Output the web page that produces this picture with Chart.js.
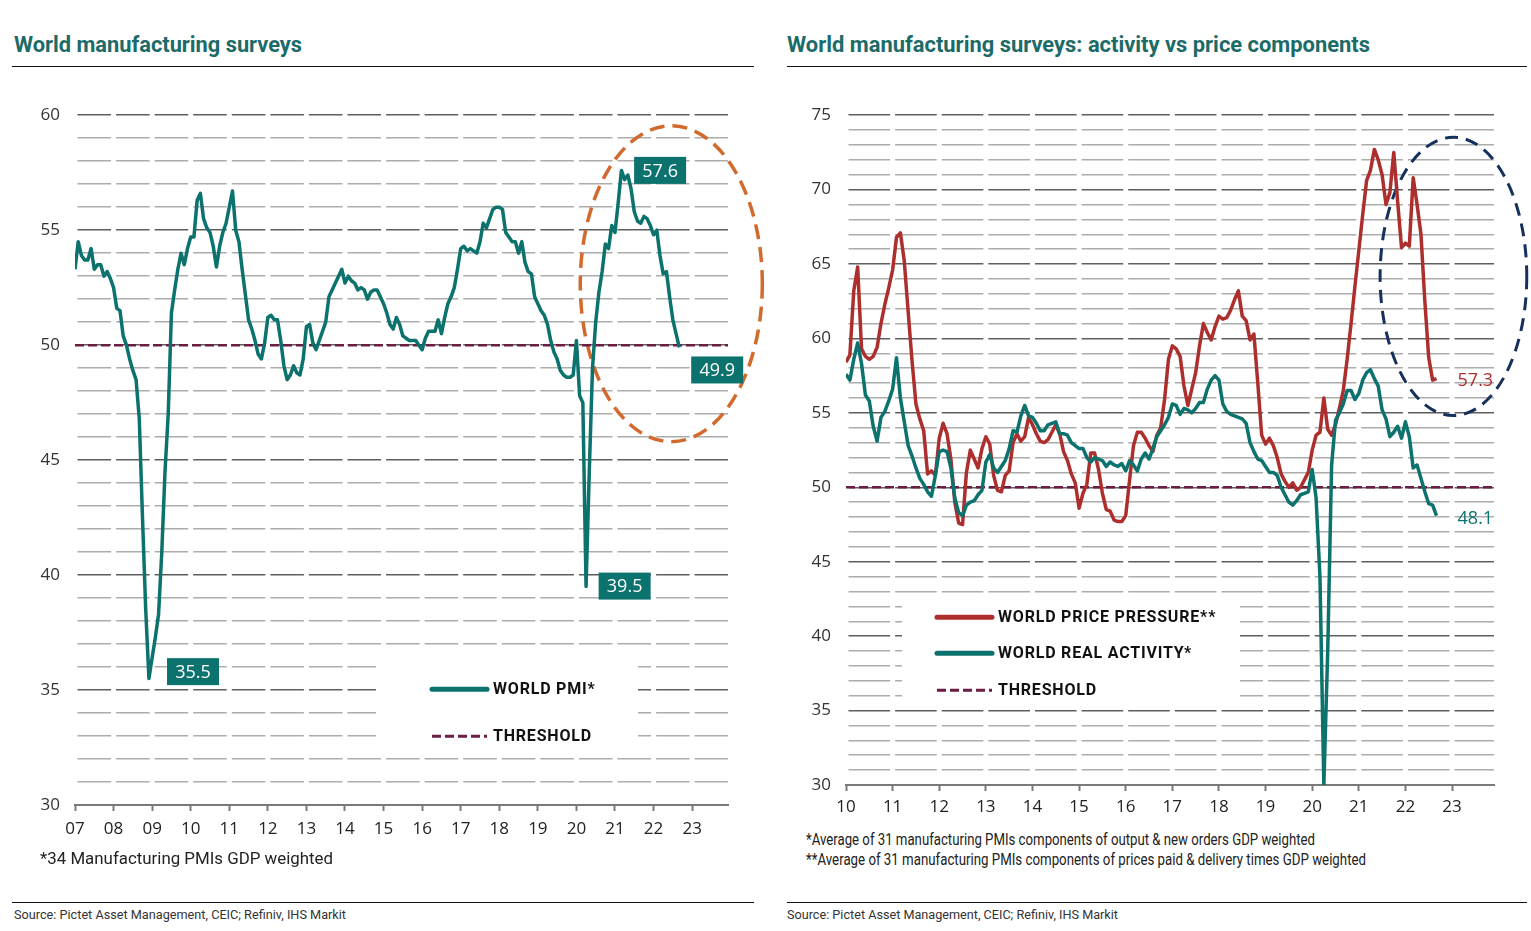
<!DOCTYPE html>
<html>
<head>
<meta charset="utf-8">
<title>World manufacturing surveys</title>
<script src="https://cdn.jsdelivr.net/npm/chart.js@4.4.1/dist/chart.umd.min.js"></script>
<style>
  html, body { margin: 0; padding: 0; background: #fff; }
  body { width: 1531px; height: 931px; position: relative; overflow: hidden; font-family: "Open Sans", sans-serif; }
  .title { position: absolute; top: 34px; font-family: Roboto, sans-serif; font-weight: 700; font-size: 22px; line-height: 22px; color: #1c6b69; white-space: nowrap; transform-origin: left top; }
  .rule { position: absolute; height: 1px; background: #111; }
  .note { position: absolute; font-family: Roboto, sans-serif; font-size: 16px; line-height: 16px; color: #222; white-space: nowrap; transform-origin: left top; }
  .source { position: absolute; top: 909px; font-family: Roboto, sans-serif; font-size: 12px; line-height: 12px; color: #333; white-space: nowrap; transform-origin: left top; }
  .plot { position: absolute; top: 90px; }
</style>
</head>
<body>

<div class="title" id="title-left" style="left:14px" data-w="288">World manufacturing surveys</div>
<div class="title" id="title-right" style="left:787px" data-w="583">World manufacturing surveys: activity vs price components</div>
<div class="rule" style="left:12px; width:742px; top:66px"></div>
<div class="rule" style="left:787px; width:740px; top:66px"></div>

<div class="plot" style="left:0px"><canvas id="pmi-chart" width="770" height="760"></canvas></div>
<div class="plot" style="left:780px"><canvas id="components-chart" width="751" height="740"></canvas></div>

<div class="note" style="left:40px; top:851px" data-w="293">*34 Manufacturing PMIs GDP weighted</div>
<div class="note" style="left:806px; top:832px" data-w="509">*Average of 31 manufacturing PMIs components of output &amp; new orders GDP weighted</div>
<div class="note" style="left:806px; top:852px" data-w="560">**Average of 31 manufacturing PMIs components of prices paid &amp; delivery times GDP weighted</div>

<div class="rule" style="left:12px; width:742px; top:902px"></div>
<div class="rule" style="left:787px; width:740px; top:902px"></div>
<div class="source" style="left:14px" data-w="332">Source: Pictet Asset Management, CEIC; Refiniv, IHS Markit</div>
<div class="source" style="left:787px" data-w="331">Source: Pictet Asset Management, CEIC; Refiniv, IHS Markit</div>

<script>
// ---- Data (monthly) ----
var pmiStartYear = 2007;
var worldPmi = [
  53.3, 54.5, 53.9, 53.7, 53.7, 54.2, 53.3, 53.5, 53.5, 53.0, 53.2, 52.9,
  52.5, 51.6, 51.5, 50.4, 50.0, 49.4, 48.9, 48.5, 46.8, 42.5, 38.5, 35.5,
  36.4, 37.3, 38.3, 41.0, 44.5, 47.0, 51.4, 52.4, 53.3, 54.0, 53.5, 54.2,
  54.7, 54.7, 56.3, 56.6, 55.5, 55.1, 54.9, 54.3, 53.4, 54.3, 54.9, 55.3,
  56.0, 56.7, 55.0, 54.5, 53.3, 52.2, 51.1, 50.7, 50.2, 49.6, 49.4, 50.1,
  51.2, 51.3, 51.1, 51.1, 50.2, 49.1, 48.5, 48.7, 49.1, 48.8, 48.7, 49.4,
  50.8, 50.9, 50.1, 49.8, 50.2, 50.6, 51.0, 52.1, 52.4, 52.7, 53.0, 53.3,
  52.7, 53.0, 52.8, 52.7, 52.4, 52.5, 52.4, 52.0, 52.3, 52.4, 52.4, 52.1,
  51.8, 51.4, 50.9, 50.7, 51.2, 50.9, 50.4, 50.3, 50.2, 50.2, 50.2, 50.0,
  49.8, 50.3, 50.6, 50.6, 50.6, 51.1, 50.5, 51.2, 51.8, 52.1, 52.5, 53.3,
  54.2, 54.3, 54.1, 54.2, 54.1, 54.0, 54.5, 55.3, 55.1, 55.5, 55.9, 56.0,
  56.0, 55.9, 54.9, 54.7, 54.5, 54.5, 54.0, 54.5, 53.6, 53.2, 53.1, 52.1,
  51.8, 51.5, 51.3, 50.9, 50.2, 49.7, 49.4, 48.9, 48.7, 48.6, 48.6, 48.7,
  50.2, 47.8, 47.5, 39.5, 44.5, 49.0, 51.0, 52.3, 53.2, 54.4, 54.2, 55.2,
  54.9, 56.2, 57.6, 57.2, 57.4, 56.8, 55.8, 55.4, 55.3, 55.6, 55.5, 55.2,
  54.8, 55.0, 53.9, 53.1, 53.2, 52.1, 51.1, 50.5, 49.9
];

var componentsStartYear = 2010;
var worldPricePressure = [
  58.4, 58.9, 63.2, 64.8, 59.3, 58.8, 58.6, 58.8, 59.4, 61.0, 62.3, 63.4,
  64.6, 66.8, 67.1, 65.2, 61.8, 58.5, 55.6, 54.6, 53.8, 50.9, 51.1, 50.8,
  53.3, 54.3, 53.6, 51.9, 49.0, 47.6, 47.5, 51.0, 52.5, 51.9, 51.3, 52.6,
  53.4, 52.9, 50.8, 49.8, 49.7, 50.8, 51.1, 53.0, 53.6, 53.1, 53.4, 54.7,
  54.2, 53.6, 53.1, 53.0, 53.2, 53.7, 54.2, 53.6, 52.4, 51.8, 50.9, 50.3,
  48.6, 49.6, 50.2, 52.3, 52.3, 51.2, 49.6, 48.5, 48.4, 47.8, 47.7, 47.7,
  48.1, 50.5, 52.8, 53.7, 53.7, 53.3, 52.8, 52.4, 53.5, 54.0, 55.9, 58.6,
  59.5, 59.3, 58.8, 56.8, 55.5, 56.6, 57.7, 59.5, 61.0, 60.4, 59.9, 60.8,
  61.5, 61.3, 61.4, 61.9, 62.6, 63.2, 61.5, 61.2, 59.9, 60.3, 57.0, 53.5,
  52.9, 53.3, 52.8, 52.0, 50.9, 50.4, 50.0, 50.3, 49.8, 50.0, 50.5, 51.0,
  52.5, 53.5, 53.7, 56.0, 53.9, 53.5, 54.2, 55.3, 56.5, 58.6, 61.0, 63.5,
  65.9, 68.3, 70.6, 71.3, 72.7, 72.0, 71.0, 69.0, 69.8, 72.5, 69.2, 66.1,
  66.4, 66.2, 70.8, 69.0, 67.0, 62.5, 58.7, 57.2, 57.3
];
var worldRealActivity = [
  57.6, 57.2, 58.6, 59.7, 58.3, 56.2, 55.8, 54.1, 53.1, 54.7, 55.1, 55.8,
  56.6, 58.7, 56.0, 54.4, 52.8, 52.1, 51.3, 50.6, 50.2, 49.7, 49.4, 50.8,
  52.4, 52.5, 52.4, 51.3, 49.3, 48.3, 48.1, 48.8, 49.0, 49.1, 49.5, 49.8,
  51.7, 52.2, 51.3, 51.0, 51.4, 51.8, 52.6, 53.8, 53.7, 54.8, 55.5, 54.8,
  54.7, 54.3, 53.8, 53.8, 54.2, 54.3, 54.4, 53.6, 53.6, 53.5, 53.0, 52.8,
  52.6, 52.6, 52.0, 51.7, 52.0, 51.9, 51.8, 51.4, 51.7, 51.5, 51.4, 51.6,
  51.1, 51.8, 51.5, 51.1, 51.9, 52.3, 51.9, 52.6, 53.4, 53.8, 54.2, 54.7,
  55.6, 55.5, 54.9, 55.3, 55.2, 55.0, 55.3, 55.7, 55.7, 56.6, 57.2, 57.5,
  57.2, 55.6, 55.1, 54.9, 54.8, 54.7, 54.6, 54.3, 53.0, 52.4, 51.9, 51.8,
  51.4, 51.0, 51.0, 50.8, 50.0, 49.5, 49.0, 48.8, 49.1, 49.5, 49.6, 49.7,
  51.2, 49.3, 44.0, 30.0, 39.0, 51.5, 54.5, 55.0, 55.6, 56.5, 56.5, 55.9,
  56.3, 57.2, 57.7, 57.9, 57.3, 56.8, 55.2, 54.6, 53.4, 53.7, 54.1, 53.3,
  54.4, 53.4, 51.3, 51.5, 50.6, 49.7, 48.9, 48.8, 48.1
];

var thresholdLevel = 50;
var pmiYearLabels = ['07', '08', '09', '10', '11', '12', '13', '14', '15', '16', '17', '18', '19', '20', '21', '22', '23'];
var componentsYearLabels = ['10', '11', '12', '13', '14', '15', '16', '17', '18', '19', '20', '21', '22', '23'];

// ---- Colours ----
var teal = '#0b726e';
var red = '#ad2f2d';
var maroon = '#6a1e43';
var majorGrid = '#5e5e5e';
var minorGrid = '#acacac';

Chart.defaults.font.family = '"Open Sans", sans-serif';
Chart.defaults.animation = false;

function monthly(values, startYear) {
  return values.map(function (v, i) { return { x: startYear + i / 12, y: v }; });
}
function last(arr) { return arr[arr.length - 1]; }

// grid dashes are one year long, with the gap sitting on each year tick
function yearPx(ctx) {
  var xs = ctx.chart.scales.x;
  return xs.getPixelForValue(xs.min + 1) - xs.getPixelForValue(xs.min);
}
function yearDash(ctx) {
  var p = yearPx(ctx);
  return isFinite(p) && p > 6 ? [p - 5, 5] : [];
}
function yearDashOffset(ctx) {
  var p = yearPx(ctx);
  return isFinite(p) ? p - 2.5 : 0;
}

// legend panel, dashed ellipse and value tags
function makeOverlay(cfg) {
  return {
    id: 'overlay',
    beforeDatasetsDraw: function (chart) {
      var ctx = chart.ctx, area = chart.chartArea, xs = chart.scales.x, ys = chart.scales.y;
      var b = cfg.legendBox;
      ctx.save();
      ctx.fillStyle = '#fff';
      ctx.fillRect(area.left + b[0], area.top + b[1], b[2], b[3]);

      var e = cfg.ellipse;
      var cx = xs.getPixelForValue(e.x), cy = ys.getPixelForValue(e.y);
      var rx = Math.abs(xs.getPixelForValue(e.x + e.rx) - cx);
      var ry = Math.abs(ys.getPixelForValue(e.y + e.ry) - cy);
      ctx.beginPath();
      ctx.ellipse(cx, cy, rx, ry, 0, 0, Math.PI * 2);
      ctx.strokeStyle = e.color;
      ctx.lineWidth = e.width;
      ctx.setLineDash(e.dash);
      ctx.stroke();
      ctx.restore();
    },
    afterDatasetsDraw: function (chart) {
      var ctx = chart.ctx, area = chart.chartArea, xs = chart.scales.x, ys = chart.scales.y;
      ctx.save();
      // legend
      cfg.legendItems.forEach(function (item) {
        var ds = chart.data.datasets[item.dataset];
        var y = area.top + item.y;
        var x0 = area.left + cfg.legendX;
        ctx.beginPath();
        ctx.moveTo(x0, y);
        ctx.lineTo(x0 + 55, y);
        ctx.strokeStyle = ds.borderColor;
        ctx.lineWidth = ds.borderDash ? ds.borderWidth + 0.5 : ds.borderWidth + 1.5;
        ctx.lineCap = ds.borderDash ? 'butt' : 'round';
        ctx.setLineDash(ds.borderDash || []);
        ctx.stroke();
        ctx.font = 'bold 16px Roboto, sans-serif';
        ctx.letterSpacing = '0.8px';
        ctx.fillStyle = '#111';
        ctx.textAlign = 'left';
        ctx.textBaseline = 'middle';
        ctx.fillText(ds.label, x0 + 61, y + 1);
      });
      ctx.letterSpacing = '0px';
      // value tags
      ctx.textAlign = 'center';
      ctx.textBaseline = 'middle';
      cfg.tags.forEach(function (t) {
        var cx = xs.getPixelForValue(t.x), cy = ys.getPixelForValue(t.y);
        if (t.fill) {
          ctx.fillStyle = t.fill;
          ctx.fillRect(cx - 26, cy - 13.5, 52, 27);
        }
        ctx.font = '18px "Open Sans", sans-serif';
        ctx.fillStyle = t.color;
        ctx.fillText(t.text, cx, cy + 1);
      });
      ctx.restore();
    }
  };
}

function axisOptions(startYear, endYear, yMin, yMax, yWidth, labels, labelPad) {
  return {
    x: {
      type: 'linear',
      min: startYear,
      max: endYear,
      // one tick per labelled year
      afterBuildTicks: function (s) {
        s.ticks = labels.map(function (_, i) { return { value: startYear + i }; });
      },
      afterFit: function (s) { s.height = 45; },
      grid: { drawOnChartArea: false, drawTicks: true, tickLength: 6, tickColor: '#7a7a7a', tickWidth: 2 },
      border: { display: true, color: '#7a7a7a', width: 2 },
      ticks: {
        stepSize: 1, autoSkip: false, maxRotation: 0, padding: labelPad,
        color: '#222', font: { size: 17 },
        callback: function (v) { return labels[Math.round(v - startYear)]; }
      }
    },
    y: {
      min: yMin,
      max: yMax,
      afterFit: function (s) { s.width = yWidth; },
      grid: {
        drawTicks: false,
        lineWidth: 1.5,
        color: function (ctx) { return ctx.tick && ctx.tick.value % 5 === 0 ? majorGrid : minorGrid; }
      },
      border: { display: false, dash: yearDash, dashOffset: yearDashOffset },
      ticks: {
        stepSize: 1, autoSkip: false, padding: 15,
        color: '#333', font: { size: 17 },
        callback: function (v) { return v % 5 === 0 ? v : ''; }
      }
    }
  };
}

// ---- Left chart: World PMI ----
var pmiEnd = 2023.93;
var pmiData = {
  datasets: [{
    label: 'WORLD PMI*',
    data: monthly(worldPmi, pmiStartYear),
    borderColor: teal,
    borderWidth: 3.5,
    borderJoinStyle: 'round',
    pointRadius: 0,
    order: 0
  }, {
    label: 'THRESHOLD',
    data: [{ x: pmiStartYear, y: thresholdLevel }, { x: pmiEnd, y: thresholdLevel }],
    borderColor: maroon,
    borderWidth: 2.5,
    borderDash: [9, 4],
    pointRadius: 0,
    order: 1
  }]
};

var pmiOverlay = makeOverlay({
  legendBox: [301, 541, 262, 94],
  legendX: 357,
  legendItems: [{ dataset: 0, y: 574 }, { dataset: 1, y: 621 }],
  ellipse: { x: 2022.46, y: 52.67, rx: 2.36, ry: 6.87, color: '#d2692d', width: 3.5, dash: [15, 8] },
  tags: [
    { x: 2022.17, y: 57.6, text: Math.max.apply(null, worldPmi).toFixed(1), fill: teal, color: '#fff' },
    { x: 2023.65, y: 48.92, text: last(worldPmi).toFixed(1), fill: teal, color: '#fff' },
    { x: 2021.25, y: 39.52, text: '39.5', fill: teal, color: '#fff' },
    { x: 2010.06, y: 35.8, text: Math.min.apply(null, worldPmi).toFixed(1), fill: teal, color: '#fff' }
  ]
});

new Chart(document.getElementById('pmi-chart'), {
  type: 'line',
  data: pmiData,
  options: {
    responsive: false,
    layout: { padding: { top: 22, right: 42, bottom: 0, left: 0 } },
    plugins: { legend: { display: false }, tooltip: { enabled: false } },
    scales: axisOptions(pmiStartYear, pmiEnd, 30, 60, 75, pmiYearLabels, 8)
  },
  plugins: [pmiOverlay]
});

// ---- Right chart: activity vs price components ----
var componentsEnd = 2023.9;
var componentsData = {
  datasets: [{
    label: 'WORLD PRICE PRESSURE**',
    data: monthly(worldPricePressure, componentsStartYear),
    borderColor: red,
    borderWidth: 3.5,
    borderJoinStyle: 'round',
    pointRadius: 0,
    order: 1
  }, {
    label: 'WORLD REAL ACTIVITY*',
    data: monthly(worldRealActivity, componentsStartYear),
    borderColor: teal,
    borderWidth: 3.5,
    borderJoinStyle: 'round',
    pointRadius: 0,
    order: 0
  }, {
    label: 'THRESHOLD',
    data: [{ x: componentsStartYear, y: thresholdLevel }, { x: componentsEnd, y: thresholdLevel }],
    borderColor: maroon,
    borderWidth: 2.5,
    borderDash: [9, 4],
    pointRadius: 0,
    order: 2
  }]
};

var componentsOverlay = makeOverlay({
  legendBox: [56, 486, 338, 106],
  legendX: 91,
  legendItems: [{ dataset: 0, y: 502 }, { dataset: 1, y: 538 }, { dataset: 2, y: 575 }],
  ellipse: { x: 2023.03, y: 64.17, rx: 1.573, ry: 9.35, color: '#15305c', width: 3, dash: [13, 8] },
  tags: [
    { x: 2023.5, y: 57.25, text: last(worldPricePressure).toFixed(1), color: red },
    { x: 2023.5, y: 47.95, text: last(worldRealActivity).toFixed(1), color: teal }
  ]
});

new Chart(document.getElementById('components-chart'), {
  type: 'line',
  data: componentsData,
  options: {
    responsive: false,
    layout: { padding: { top: 21, right: 37, bottom: 0, left: 0 } },
    plugins: { legend: { display: false }, tooltip: { enabled: false } },
    scales: axisOptions(componentsStartYear, componentsEnd, 30, 75, 66, componentsYearLabels, 6)
  },
  plugins: [componentsOverlay]
});

// squeeze the condensed-looking texts to their original widths
document.querySelectorAll('[data-w]').forEach(function (el) {
  var w = el.getBoundingClientRect().width;
  if (w > 0) el.style.transform = 'scaleX(' + (parseFloat(el.dataset.w) / w) + ')';
});
</script>
</body>
</html>
